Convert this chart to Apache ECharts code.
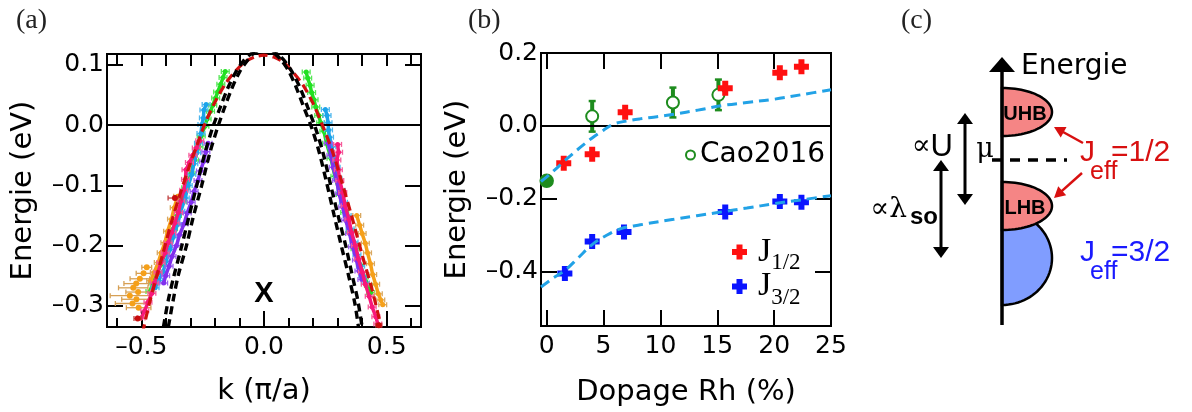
<!DOCTYPE html>
<html><head><meta charset="utf-8">
<script src="https://cdn.jsdelivr.net/npm/echarts@6/dist/echarts.min.js"></script>
<style>html,body{margin:0;padding:0;background:#fff}#c{width:1192px;height:412px}</style>
</head><body><div id="c"></div>
<script>
// ================= Panel (a) data : k (pi/a), E (eV) =================
const aYTicks = [-0.3, -0.2, -0.1, 0.0, 0.1];
const aXMajor = [-0.5, 0.0, 0.5];
const aXMinor = [-0.6, -0.4, -0.3, -0.2, -0.1, 0.1, 0.2, 0.3, 0.4, 0.6];
const aXAll = [-0.6, -0.5, -0.4, -0.3, -0.2, -0.1, 0.0, 0.1, 0.2, 0.3, 0.4, 0.5, 0.6];

const greenL = [[-0.158,0.089],[-0.167,0.079],[-0.176,0.068],[-0.189,0.055],[-0.197,0.045],[-0.209,0.033],[-0.218,0.023],[-0.232,0.010],[-0.241,-0.002],[-0.256,-0.018],[-0.265,-0.036],[-0.283,-0.058],[-0.297,-0.080],[-0.319,-0.104],[-0.333,-0.127],[-0.353,-0.150],[-0.369,-0.172],[-0.390,-0.195],[-0.404,-0.214],[-0.422,-0.232],[-0.437,-0.248],[-0.453,-0.262],[-0.465,-0.276]];
const greenR = [[0.172,0.088],[0.178,0.078],[0.188,0.066],[0.194,0.054],[0.204,0.042],[0.211,0.030],[0.223,0.016],[0.231,0.004],[0.244,-0.010],[0.255,-0.030],[0.273,-0.055],[0.289,-0.085],[0.311,-0.115],[0.329,-0.145],[0.353,-0.175],[0.371,-0.205],[0.393,-0.232],[0.409,-0.252],[0.426,-0.266],[0.435,-0.278]];
const cyanL = [[-0.236,0.034],[-0.245,0.025],[-0.247,0.012],[-0.253,0.001],[-0.257,-0.014],[-0.267,-0.030],[-0.274,-0.046],[-0.286,-0.064],[-0.294,-0.082],[-0.309,-0.100],[-0.321,-0.121],[-0.339,-0.143],[-0.353,-0.165],[-0.370,-0.186],[-0.383,-0.206],[-0.399,-0.226],[-0.411,-0.243],[-0.429,-0.258],[-0.444,-0.270]];
const cyanR = [[0.250,0.026],[0.257,0.016],[0.261,0.004],[0.263,-0.008],[0.267,-0.020],[0.277,-0.036],[0.283,-0.052],[0.294,-0.070],[0.301,-0.088],[0.314,-0.108],[0.324,-0.128],[0.339,-0.150],[0.351,-0.172],[0.367,-0.194],[0.379,-0.215],[0.394,-0.234],[0.403,-0.250],[0.413,-0.262]];
const purpleL = [[-0.228,-0.030],[-0.237,-0.044],[-0.246,-0.060],[-0.259,-0.076],[-0.269,-0.092],[-0.285,-0.110],[-0.297,-0.128],[-0.313,-0.146],[-0.326,-0.164],[-0.344,-0.182],[-0.357,-0.200],[-0.375,-0.218],[-0.387,-0.234],[-0.401,-0.250],[-0.409,-0.262]];
const purpleR = [[0.262,-0.030],[0.273,-0.050],[0.282,-0.070],[0.296,-0.092],[0.306,-0.114],[0.321,-0.136],[0.333,-0.158],[0.349,-0.180],[0.361,-0.202],[0.377,-0.224],[0.387,-0.242],[0.399,-0.256]];
const pinkL = [[-0.262,-0.026],[-0.276,-0.038],[-0.290,-0.050],[-0.304,-0.062],[-0.318,-0.074],[-0.320,-0.090],[-0.327,-0.108],[-0.339,-0.126],[-0.349,-0.145],[-0.363,-0.162],[-0.376,-0.178],[-0.391,-0.195],[-0.403,-0.212],[-0.420,-0.228],[-0.432,-0.244],[-0.447,-0.262],[-0.457,-0.279],[-0.473,-0.294],[-0.486,-0.308],[-0.501,-0.320]];
const pinkR = [[0.300,-0.032],[0.304,-0.045],[0.297,-0.058],[0.303,-0.074],[0.309,-0.092],[0.321,-0.112],[0.331,-0.134],[0.346,-0.156],[0.357,-0.178],[0.373,-0.200],[0.385,-0.222],[0.401,-0.244],[0.413,-0.264],[0.429,-0.284],[0.441,-0.302],[0.456,-0.318],[0.464,-0.330]];
const orangeL = [[-0.352,-0.118],[-0.366,-0.137],[-0.377,-0.156],[-0.393,-0.176],[-0.404,-0.195],[-0.419,-0.212],[-0.431,-0.228],[-0.447,-0.244],[-0.462,-0.258]];
const orangeR = [[0.378,-0.150],[0.390,-0.166],[0.400,-0.180],[0.413,-0.196],[0.422,-0.212],[0.434,-0.230],[0.443,-0.248],[0.455,-0.264],[0.466,-0.280],[0.476,-0.290],[0.484,-0.298]];
// orange points with large horizontal error bars: [k, E, dk]
const orangeDots = [[-0.478,-0.236,0.02],[-0.491,-0.246,0.03],[-0.506,-0.255,0.04],[-0.521,-0.263,0.05],[-0.533,-0.270,0.06],[-0.513,-0.277,0.05],[-0.547,-0.283,0.08],[-0.520,-0.289,0.06],[-0.536,-0.296,0.07],[-0.511,-0.303,0.05]];
const darkRedPts = [[-0.363,-0.121,0.028],[-0.515,-0.321,0.015],[0.468,-0.332,0.012]];
// horizontal error half-widths of each coloured data set (green, cyan, purple, pink, orange)
const aErr = [0.016, 0.016, 0.016, 0.016, 0.016];

// model dispersions
const redFit = [[-0.495,-0.345],[-0.47,-0.30],[-0.44,-0.255],[-0.41,-0.21],[-0.38,-0.165],[-0.345,-0.118],[-0.31,-0.075],[-0.275,-0.035],[-0.24,0.003],[-0.2,0.038],[-0.16,0.067],[-0.12,0.088],[-0.08,0.104],[-0.04,0.113],[0,0.116],[0.04,0.113],[0.08,0.104],[0.12,0.087],[0.16,0.066],[0.2,0.036],[0.24,-0.002],[0.28,-0.045],[0.32,-0.098],[0.36,-0.155],[0.40,-0.215],[0.44,-0.272],[0.47,-0.322]];
const blackFit1 = [[-0.39,-0.335],[-0.37,-0.29],[-0.35,-0.25],[-0.316,-0.2],[-0.29,-0.155],[-0.254,-0.1],[-0.22,-0.045],[-0.19,-0.005],[-0.16,0.03],[-0.13,0.062],[-0.10,0.088],[-0.07,0.106],[-0.045,0.118],[0,0.128],[0.045,0.118],[0.07,0.108],[0.10,0.09],[0.13,0.064],[0.16,0.032],[0.195,-0.005],[0.225,-0.045],[0.255,-0.095],[0.285,-0.148],[0.315,-0.2],[0.345,-0.25],[0.37,-0.295],[0.385,-0.335]];
const blackFit2 = [[-0.41,-0.335],[-0.39,-0.29],[-0.367,-0.25],[-0.335,-0.2],[-0.308,-0.155],[-0.274,-0.1],[-0.24,-0.045],[-0.21,-0.005],[-0.178,0.03],[-0.147,0.062],[-0.115,0.088],[-0.085,0.106],[-0.06,0.116],[0,0.13],[0.06,0.116],[0.085,0.106],[0.115,0.088],[0.147,0.062],[0.178,0.03],[0.21,-0.005],[0.24,-0.045],[0.272,-0.1],[0.305,-0.155],[0.333,-0.2],[0.36,-0.25],[0.382,-0.29],[0.40,-0.335]];
const aPointLabel = 'X';
const aPointLabelPos = [0, -0.281];

// ================= Panel (b) data : Rh doping (%), E (eV) =================
const bXTicks = [0, 5, 10, 15, 20, 25];
const bYTicks = [-0.4, -0.2, 0.0, 0.2];
const j12X = [1.5, 4.0, 6.9, 15.7, 20.5, 22.4];
const j12E = [-0.103, -0.078, 0.037, 0.103, 0.146, 0.162];
const j32X = [1.6, 4.0, 6.8, 15.7, 20.5, 22.4];
const j32E = [-0.406, -0.318, -0.292, -0.237, -0.208, -0.210];
const caoX = [0, 4.0, 11.1, 15.1];
const caoE = [-0.151, 0.026, 0.064, 0.085];
const caoErr = [0, 0.042, 0.041, 0.042];
const fitUp = [[-0.5,-0.153],[0.5,-0.127],[1.76,-0.091],[3.0,-0.058],[3.97,-0.034],[5.0,-0.012],[5.9,0.005],[7.0,0.013],[8.2,0.019],[9.7,0.025],[11.2,0.032],[13.3,0.043],[15.3,0.055],[17.6,0.064],[20.0,0.073],[22.5,0.086],[25.0,0.099]];
const fitLo = [[-0.5,-0.443],[0.5,-0.42],[1.62,-0.397],[2.8,-0.362],[3.97,-0.327],[5.2,-0.302],[6.47,-0.283],[8.23,-0.272],[11.17,-0.257],[13.2,-0.247],[15.3,-0.237],[17.6,-0.226],[20.0,-0.214],[22.5,-0.203],[25.0,-0.192]];

// ================= Panel (c) schematic (arbitrary energy units, mu = 0) =================
const cBandNames = ['J32', 'LHB', 'UHB'];
const cBandCenter = [-98, -46, 48];
const cBandHalfHeight = [47, 24, 24];
const cBandHalfWidth = [50, 50, 50];
// arrows: [x1, y1, x2, y2, kind]
const cArrows = [[0,-165,0,103,0],[-37,-45,-37,47,1],[-61,-98,-61,0,1],[81,17,52,33,2],[80,-13,52,-38,2]];
const cMuLine = [[-10,0],[65,0]];
// annotations: [text, x, y, styleKey]
const cTexts = [
  ['Energie', 19, 93, 'energie'],
  ['UHB', 23, 46, 'band'],
  ['LHB', 23, -48, 'band'],
  ['μ', -17, 10, 'mu'],
  ['{p|∝}{u|U}', -49, 13, 'propU'],
  ['{p|∝λ}', -95, -50, 'propL'],
  ['so', -64, -57, 'so'],
  ['J', 78, 7, 'red'],
  ['=1/2', 109, 7, 'red'],
  ['eff', 88, -12, 'redSub'],
  ['J', 78, -93, 'blue'],
  ['=3/2', 109, -93, 'blue'],
  ['eff', 88, -112, 'blueSub']
];

// ================= chart =================
const chart = echarts.init(document.getElementById('c'), null, {renderer: 'canvas', width: 1192, height: 412});
const SANS = 'DejaVu Sans';
const tickLbl = {fontFamily: SANS, fontSize: 25, color: '#000'};
const nameSty = {fontFamily: SANS, fontSize: 29, color: '#000'};
const fmtNum = v => (v < 0 ? '\u2013' : '') + Math.abs(v).toFixed(1);

function hErr(color, lw) {
  return function (params, api) {
    const k = api.value(0), e = api.value(1), dk = api.value(2);
    const p1 = api.coord([k - dk, e]), p2 = api.coord([k + dk, e]);
    return {type: 'group', children: [
      {type: 'line', shape: {x1: p1[0], y1: p1[1], x2: p2[0], y2: p2[1]}, style: {stroke: color, lineWidth: lw}},
      {type: 'line', shape: {x1: p1[0], y1: p1[1] - 2.5, x2: p1[0], y2: p1[1] + 2.5}, style: {stroke: color, lineWidth: lw}},
      {type: 'line', shape: {x1: p2[0], y1: p2[1] - 2.5, x2: p2[0], y2: p2[1] + 2.5}, style: {stroke: color, lineWidth: lw}}
    ]};
  };
}

const series = [];
const groups = [
  ['green', '#22e022', '#55e855', greenL, greenR, aErr[0], 2],
  ['cyan', '#1ba3ea', '#4cb6ee', cyanL, cyanR, aErr[1], 3],
  ['orange', '#f5a01a', '#d9a860', orangeL, orangeR, aErr[4], 4],
  ['purple', '#8030ee', '#9a60f0', purpleL, purpleR, aErr[2], 5],
  ['pink', '#f8187a', '#f65a9a', pinkL, pinkR, aErr[3], 6]
];
groups.forEach((g, gi) => {
  [g[3], g[4]].forEach((arr) => {
    series.push({type: 'custom', xAxisIndex: 0, yAxisIndex: 0, z: g[6], silent: true,
      renderItem: hErr(g[2], 1.3), encode: {x: 0, y: 1},
      data: arr.map(p => [p[0], p[1], g[5]])});
    series.push({type: 'line', xAxisIndex: 0, yAxisIndex: 0, z: g[6], silent: true,
      data: arr, symbol: 'circle', symbolSize: 5, showSymbol: true,
      itemStyle: {color: g[1], opacity: 1}, lineStyle: {color: g[1], width: 3.5},
      markLine: gi === 0 && arr === g[3] ? {silent: true, symbol: 'none', label: {show: false},
        lineStyle: {color: '#000', width: 2, type: 'solid'}, data: [{yAxis: 0}]} : undefined});
  });
});
series.push({type: 'custom', xAxisIndex: 0, yAxisIndex: 0, z: 4, silent: true,
  renderItem: hErr('#d6a055', 1.3), encode: {x: 0, y: 1}, data: orangeDots});
series.push({type: 'scatter', xAxisIndex: 0, yAxisIndex: 0, z: 4, silent: true,
  data: orangeDots.map(p => [p[0], p[1]]), symbolSize: 6, itemStyle: {color: '#f5a01a', opacity: 1}});
series.push({type: 'custom', xAxisIndex: 0, yAxisIndex: 0, z: 7, silent: true,
  renderItem: hErr('#c04040', 1.3), encode: {x: 0, y: 1}, data: darkRedPts});
series.push({type: 'scatter', xAxisIndex: 0, yAxisIndex: 0, z: 7, silent: true,
  data: darkRedPts.map(p => [p[0], p[1]]), symbolSize: 6, itemStyle: {color: '#c80c0c', opacity: 1}});
series.push({type: 'line', xAxisIndex: 0, yAxisIndex: 0, z: 8, silent: true, data: redFit, smooth: 0.3,
  showSymbol: false, lineStyle: {color: '#d01010', width: 3.2, type: [9, 5]}});
[blackFit1, blackFit2].forEach(arr => series.push({type: 'line', xAxisIndex: 0, yAxisIndex: 0, z: 9, silent: true,
  data: arr, smooth: 0.3, showSymbol: false, lineStyle: {color: '#000', width: 3.4, type: [8, 5]}}));
series.push({type: 'scatter', xAxisIndex: 0, yAxisIndex: 0, z: 10, silent: true, data: [aPointLabelPos], symbolSize: 0,
  itemStyle: {opacity: 1},
  label: {show: true, position: 'inside', formatter: aPointLabel, fontFamily: 'Liberation Sans', fontWeight: 'bold', fontSize: 29, color: '#000'}});

// ---- panel (b) series ----
const plusPath = 'path://M30,0 H70 V30 H100 V70 H70 V100 H30 V70 H0 V30 H30 Z';
series.push({type: 'custom', xAxisIndex: 3, yAxisIndex: 2, z: 3, silent: true, encode: {x: 0, y: 1},
  data: caoX.map((x, i) => [x, caoE[i], caoErr[i]]),
  renderItem: function (params, api) {
    const x = api.value(0), e = api.value(1), d = api.value(2);
    if (!d) return null;
    const a = api.coord([x, e + d]), b = api.coord([x, e - d]);
    const c = '#1e8c1e';
    return {type: 'group', children: [
      {type: 'line', shape: {x1: a[0], y1: a[1], x2: b[0], y2: b[1]}, style: {stroke: c, lineWidth: 4}},
      {type: 'line', shape: {x1: a[0] - 3.5, y1: a[1], x2: a[0] + 3.5, y2: a[1]}, style: {stroke: c, lineWidth: 2.5}},
      {type: 'line', shape: {x1: b[0] - 3.5, y1: b[1], x2: b[0] + 3.5, y2: b[1]}, style: {stroke: c, lineWidth: 2.5}}
    ]};
  }});
series.push({type: 'scatter', name: 'Cao2016', xAxisIndex: 3, yAxisIndex: 2, z: 4, silent: true,
  symbol: 'emptyCircle', symbolSize: 12,
  itemStyle: {color: '#1e8c1e', borderColor: '#1e8c1e', borderWidth: 2.5, opacity: 1},
  data: caoX.map((x, i) => i === 0 ? {value: [x, caoE[i]], itemStyle: {color: '#1e8c1e'}, symbol: 'circle'} : [x, caoE[i]]),
  markLine: {silent: true, symbol: 'none', label: {show: false}, lineStyle: {color: '#000', width: 2, type: 'solid'}, data: [{yAxis: 0}]}});
series.push({type: 'scatter', name: 'J12', xAxisIndex: 3, yAxisIndex: 2, z: 4, silent: true,
  symbol: plusPath, symbolSize: 15, itemStyle: {color: '#ff1010', opacity: 1}, data: j12X.map((x, i) => [x, j12E[i]])});
series.push({type: 'scatter', name: 'J32', xAxisIndex: 3, yAxisIndex: 2, z: 4, silent: true,
  symbol: plusPath, symbolSize: 15, itemStyle: {color: '#0a14ff', opacity: 1}, data: j32X.map((x, i) => [x, j32E[i]])});
[fitUp, fitLo].forEach(arr => series.push({type: 'line', xAxisIndex: 3, yAxisIndex: 2, z: 6, silent: true,
  data: arr, smooth: 0.35, showSymbol: false, lineStyle: {color: '#22a2e6', width: 3, type: [10, 6]}}));

// ---- panel (c) series ----
const bandFill = ['#809dff', '#f58585', '#f58585'];
series.push({type: 'custom', xAxisIndex: 5, yAxisIndex: 4, z: 2, silent: true, encode: {x: 2, y: 0},
  data: cBandNames.map((n, i) => [cBandCenter[i], cBandHalfHeight[i], cBandHalfWidth[i], i]),
  renderItem: function (params, api) {
    const yc = api.value(0), ry = api.value(1), rx = api.value(2), idx = api.value(3);
    const pts = [];
    for (let i = 0; i <= 48; i++) {
      const t = -Math.PI / 2 + Math.PI * i / 48;
      pts.push(api.coord([rx * Math.cos(t), yc + ry * Math.sin(t)]));
    }
    return {type: 'polygon', shape: {points: pts}, style: {fill: bandFill[idx], stroke: '#000', lineWidth: 2.5}};
  }});
const arrowStyle = [
  {color: '#000', lw: 3.5, hw: 13, hl: 15, both: false},
  {color: '#000', lw: 3, hw: 8, hl: 11, both: true},
  {color: '#d81010', lw: 2.5, hw: 6, hl: 11, both: false}
];
series.push({type: 'custom', xAxisIndex: 5, yAxisIndex: 4, z: 5, silent: true, encode: {x: [0, 2], y: [1, 3]},
  data: cArrows,
  renderItem: function (params, api) {
    const a = api.coord([api.value(0), api.value(1)]), b = api.coord([api.value(2), api.value(3)]);
    const st = arrowStyle[api.value(4)];
    const dx = b[0] - a[0], dy = b[1] - a[1], L = Math.hypot(dx, dy), ux = dx / L, uy = dy / L, nx = -uy, ny = ux;
    const head = (tip, d) => {
      const bx = tip[0] - d[0] * st.hl, by = tip[1] - d[1] * st.hl;
      return {type: 'polygon', shape: {points: [tip, [bx + nx * st.hw, by + ny * st.hw], [bx - nx * st.hw, by - ny * st.hw]]}, style: {fill: st.color}};
    };
    const s = st.both ? [a[0] + ux * st.hl * 0.8, a[1] + uy * st.hl * 0.8] : a;
    const e = [b[0] - ux * st.hl * 0.8, b[1] - uy * st.hl * 0.8];
    const ch = [{type: 'line', shape: {x1: s[0], y1: s[1], x2: e[0], y2: e[1]}, style: {stroke: st.color, lineWidth: st.lw}}, head(b, [ux, uy])];
    if (st.both) ch.push(head(a, [-ux, -uy]));
    return {type: 'group', children: ch};
  }});
series.push({type: 'line', xAxisIndex: 5, yAxisIndex: 4, z: 4, silent: true, data: cMuLine, showSymbol: false,
  lineStyle: {color: '#000', width: 3.5, type: [10, 8]}});
const cTextStyle = {
  energie: {fontFamily: SANS, fontSize: 28, color: '#000', align: 'left'},
  band: {fontFamily: 'Liberation Sans', fontWeight: 'bold', fontSize: 20, color: '#000', align: 'center'},
  mu: {fontFamily: 'DejaVu Serif', fontSize: 27, color: '#000', align: 'center'},
  propU: {align: 'right', rich: {p: {fontFamily: 'DejaVu Serif', fontSize: 28, color: '#000'}, u: {fontFamily: 'Liberation Sans', fontSize: 31, color: '#000'}}},
  propL: {align: 'right', rich: {p: {fontFamily: 'DejaVu Serif', fontSize: 28, color: '#000'}}},
  so: {fontFamily: 'Liberation Sans', fontWeight: 'bold', fontSize: 24, color: '#000', align: 'right'},
  red: {fontFamily: 'Liberation Sans', fontSize: 30, color: '#d81010', align: 'left'},
  redSub: {fontFamily: 'Liberation Sans', fontSize: 25, color: '#d81010', align: 'left'},
  blue: {fontFamily: 'Liberation Sans', fontSize: 30, color: '#1a1aff', align: 'left'},
  blueSub: {fontFamily: 'Liberation Sans', fontSize: 25, color: '#1a1aff', align: 'left'}
};
series.push({type: 'scatter', xAxisIndex: 5, yAxisIndex: 4, z: 8, silent: true, symbolSize: 0,
  itemStyle: {opacity: 1},
  data: cTexts.map(t => ({value: [t[1], t[2]],
    label: Object.assign({show: true, position: 'inside', verticalAlign: 'middle', formatter: t[0]}, cTextStyle[t[3]])}))});

const noLine = {show: false, onZero: false};
const tickSty = {color: '#000', width: 2};
const option = {
  animation: false,
  backgroundColor: '#fff',
  title: [
    {text: '(a)', left: 16, top: 7, padding: 0, textStyle: {fontFamily: 'Liberation Serif', fontSize: 28, fontWeight: 'normal', color: '#222'}},
    {text: '(b)', left: 468, top: 7, padding: 0, textStyle: {fontFamily: 'Liberation Serif', fontSize: 28, fontWeight: 'normal', color: '#222'}},
    {text: '(c)', left: 901, top: 7, padding: 0, textStyle: {fontFamily: 'Liberation Serif', fontSize: 28, fontWeight: 'normal', color: '#222'}}
  ],
  legend: [
    {data: ['Cao2016'], left: 685, top: 141, padding: 0, itemWidth: 9, itemHeight: 9, selectedMode: false,
      textStyle: {fontFamily: SANS, fontSize: 28, color: '#000'}},
    {data: ['J12', 'J32'], orient: 'vertical', left: 732, top: 235, padding: 0, itemWidth: 15, itemHeight: 15, itemGap: -5, selectedMode: false,
      formatter: n => n === 'J12' ? '{j|J}{s|1/2}' : '{j|J}{s|3/2}',
      textStyle: {rich: {j: {fontFamily: 'Liberation Serif', fontSize: 34, color: '#000', padding: [0, 0, 0, 6]},
        s: {fontFamily: 'Liberation Serif', fontSize: 23, color: '#000', padding: [22, 0, 0, 0]}}}}
  ],
  grid: [
    {left: 107, top: 54, width: 314, height: 273, show: true, borderColor: '#000', borderWidth: 2, backgroundColor: 'transparent'},
    {left: 541, top: 53, width: 290, height: 274, show: true, borderColor: '#000', borderWidth: 2, backgroundColor: 'transparent'},
    {left: 862, top: 40, width: 320, height: 320, show: false}
  ],
  xAxis: [
    {gridIndex: 0, type: 'value', min: -0.64, max: 0.64, position: 'bottom', axisLine: noLine, splitLine: {show: false},
      axisTick: {inside: true, length: 16, customValues: aXMajor, lineStyle: tickSty},
      axisLabel: {customValues: aXMajor, formatter: fmtNum, margin: 8, ...tickLbl},
      name: 'k (π/a)', nameLocation: 'middle', nameGap: 50, nameTextStyle: nameSty},
    {gridIndex: 0, type: 'value', min: -0.64, max: 0.64, position: 'bottom', axisLine: noLine, splitLine: {show: false},
      axisTick: {inside: true, length: 9, customValues: aXMinor, lineStyle: tickSty}, axisLabel: {show: false}},
    {gridIndex: 0, type: 'value', min: -0.64, max: 0.64, position: 'top', axisLine: noLine, splitLine: {show: false},
      axisTick: {inside: true, length: 12, customValues: aXAll, lineStyle: tickSty}, axisLabel: {show: false}},
    {gridIndex: 1, type: 'value', min: -0.5, max: 25, position: 'bottom', axisLine: noLine, splitLine: {show: false},
      axisTick: {inside: true, length: 16, customValues: bXTicks, lineStyle: tickSty},
      axisLabel: {customValues: bXTicks, formatter: v => String(v), margin: 8, ...tickLbl},
      name: 'Dopage Rh (%)', nameLocation: 'middle', nameGap: 52, nameTextStyle: nameSty},
    {gridIndex: 1, type: 'value', min: -0.5, max: 25, position: 'top', axisLine: noLine, splitLine: {show: false},
      axisTick: {inside: true, length: 16, customValues: bXTicks, lineStyle: tickSty}, axisLabel: {show: false}},
    {gridIndex: 2, type: 'value', min: -140, max: 180, show: false}
  ],
  yAxis: [
    {gridIndex: 0, type: 'value', min: -0.335, max: 0.118, position: 'left', axisLine: noLine, splitLine: {show: false},
      axisTick: {inside: true, length: 16, customValues: aYTicks, lineStyle: tickSty},
      axisLabel: {customValues: aYTicks, formatter: fmtNum, margin: 3, ...tickLbl},
      name: 'Energie (eV)', nameLocation: 'middle', nameGap: 69, nameTextStyle: nameSty},
    {gridIndex: 0, type: 'value', min: -0.335, max: 0.118, position: 'right', axisLine: noLine, splitLine: {show: false},
      axisTick: {inside: true, length: 16, customValues: aYTicks, lineStyle: tickSty}, axisLabel: {show: false}},
    {gridIndex: 1, type: 'value', min: -0.55, max: 0.2, position: 'left', axisLine: noLine, splitLine: {show: false},
      axisTick: {inside: true, length: 16, customValues: bYTicks, lineStyle: tickSty},
      axisLabel: {customValues: bYTicks, formatter: fmtNum, margin: 3, ...tickLbl},
      name: 'Energie (eV)', nameLocation: 'middle', nameGap: 69, nameTextStyle: nameSty},
    {gridIndex: 1, type: 'value', min: -0.55, max: 0.2, position: 'right', axisLine: noLine, splitLine: {show: false},
      axisTick: {inside: true, length: 16, customValues: bYTicks, lineStyle: tickSty}, axisLabel: {show: false}},
    {gridIndex: 2, type: 'value', min: -200, max: 120, show: false}
  ],
  series: series
};
chart.setOption(option);
</script>
</body></html>
